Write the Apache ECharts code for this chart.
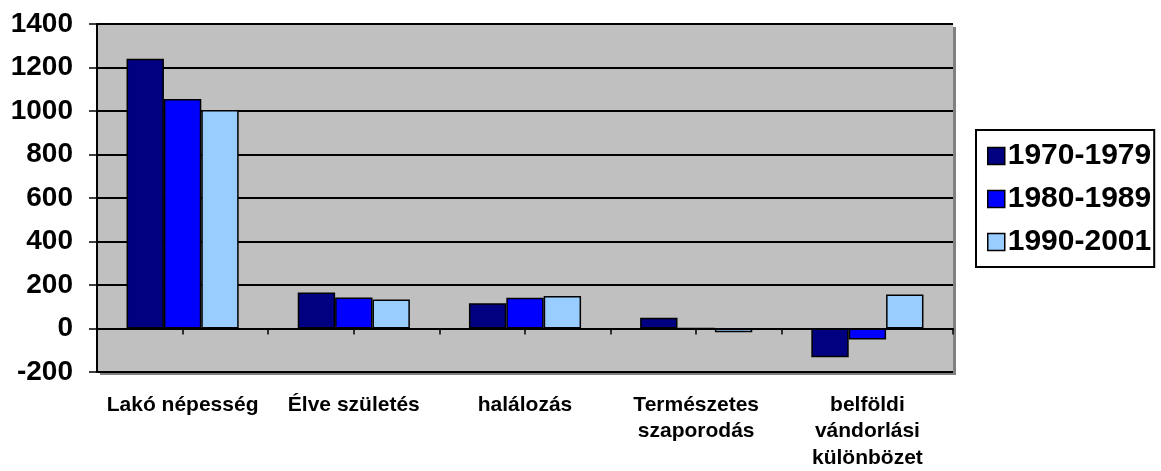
<!DOCTYPE html>
<html>
<head>
<meta charset="utf-8">
<script src="https://cdn.jsdelivr.net/npm/echarts@6/dist/echarts.min.js"></script>
<style>
  html, body { margin: 0; padding: 0; background: #fff; }
  #chart { width: 1161px; height: 471px; }
</style>
</head>
<body>
<div id="chart"></div>
<script>
// kategóriák és adatsorok
const categories = ['Lakó népesség', 'Élve születés', 'halálozás', 'Természetes\nszaporodás', 'belföldi\nvándorlási\nkülönbözet'];
const periods = ['1970-1979', '1980-1989', '1990-2001'];
const values1970 = [1240, 165, 116, 49, -132];
const values1980 = [1055, 142, 141, 1, -50];
const values1990 = [1005, 133, 150, -17, 156];
const colors = ['#000080', '#0000FF', '#99CCFF'];
const yMin = -200, yMax = 1400, yStep = 200;

const chart = echarts.init(document.getElementById('chart'));
const font = 'Arial, "Liberation Sans", sans-serif';

const plotRect = { left: 97, top: 24, width: 856, height: 348 };

const barSeries = [values1970, values1980, values1990].map((data, i) => ({
  name: periods[i],
  type: 'bar',
  xAxisIndex: 0,
  yAxisIndex: 0,
  data: data,
  barGap: '0%',
  barCategoryGap: '34.5%',
  itemStyle: { color: colors[i], borderColor: '#000', borderWidth: 1.5 }
}));

// rejtett y tengely a segéd rácsokhoz
const hiddenY = (gridIndex) => ({
  type: 'value', gridIndex: gridIndex, min: yMin, max: yMax, interval: yStep,
  axisLine: { show: false }, axisTick: { show: false },
  axisLabel: { show: false }, splitLine: { show: false }
});

const option = {
  animation: false,
  grid: [
    Object.assign({
      show: true,
      backgroundColor: '#C0C0C0',
      borderWidth: 0,
      shadowColor: '#808080',
      shadowOffsetX: 3,
      shadowOffsetY: 3
    }, plotRect),
    Object.assign({ show: false }, plotRect),
    Object.assign({ show: false }, plotRect)
  ],
  legend: {
    orient: 'vertical',
    left: 976,
    top: 130,
    data: periods,
    icon: 'rect',
    itemWidth: 17,
    itemHeight: 17,
    itemGap: 13,
    padding: [11, 3, 10, 11],
    borderColor: '#000',
    borderWidth: 2,
    backgroundColor: '#fff',
    itemStyle: { borderColor: '#000', borderWidth: 1.5 },
    textStyle: { fontFamily: font, fontWeight: 'bold', fontSize: 30, color: '#000', padding: [0, 0, 0, -2] }
  },
  xAxis: [
    {
      type: 'category',
      gridIndex: 0,
      data: categories,
      axisLine: { onZero: true, lineStyle: { color: '#000', width: 2 } },
      axisTick: { show: true, alignWithLabel: false, length: 6, lineStyle: { color: '#000', width: 1.5 } },
      axisLabel: { show: false }
    },
    {
      type: 'category',
      gridIndex: 1,
      data: categories,
      axisLine: { show: false, onZero: true },
      axisTick: { show: true, alignWithLabel: true, length: 6, lineStyle: { color: '#000', width: 1.5 } },
      axisLabel: { show: false }
    },
    {
      type: 'category',
      gridIndex: 2,
      data: categories,
      axisLine: { show: false, onZero: false },
      axisTick: { show: false },
      axisLabel: {
        show: true,
        interval: 0,
        margin: 27,
        fontFamily: font,
        fontWeight: 'bold',
        fontSize: 21,
        lineHeight: 26.5,
        color: '#000'
      }
    }
  ],
  yAxis: [
    {
      type: 'value',
      gridIndex: 0,
      min: yMin,
      max: yMax,
      interval: yStep,
      axisLine: { show: true, lineStyle: { color: '#000', width: 2 } },
      axisTick: { show: true, length: 8, lineStyle: { color: '#000', width: 1.5 } },
      axisLabel: {
        fontFamily: font, fontWeight: 'bold', fontSize: 28, color: '#000', margin: 24,
        formatter: v => String(v)
      },
      splitLine: { show: true, lineStyle: { color: '#000', width: 2 } }
    },
    hiddenY(1),
    hiddenY(2)
  ],
  series: barSeries
};

chart.setOption(option);
</script>
</body>
</html>
